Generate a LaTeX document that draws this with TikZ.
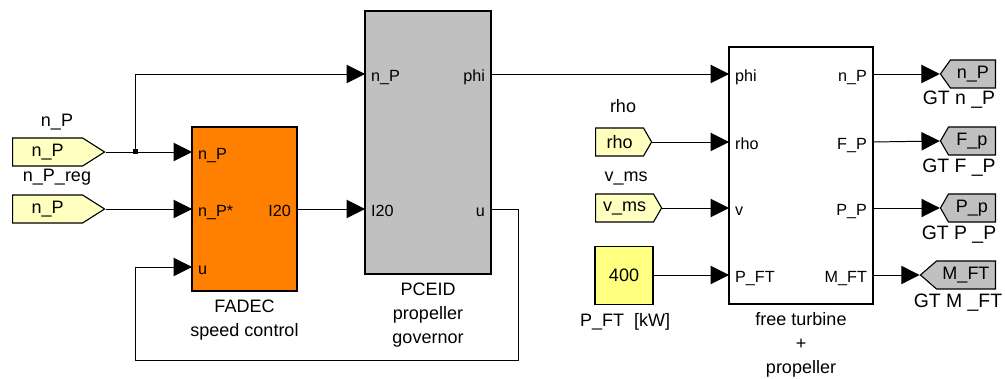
\documentclass[tikz,border=0pt]{standalone}
\usepackage{fontspec}
\setmainfont{Liberation Sans}
\usetikzlibrary{arrows.meta,shapes.symbols,positioning}

\definecolor{fadecorange}{HTML}{FF8000}
\definecolor{blockgray}{HTML}{C0C0C0}
\definecolor{tagyellow}{HTML}{FFFFC0}
\definecolor{constyellow}{HTML}{FFFF80}
\newcommand\lblfont{\fontsize{12.8}{17}\selectfont}
\newcommand\portfont{\fontsize{11.5}{13}\selectfont}

\begin{document}
\begin{tikzpicture}[x=0.025cm,y=-0.025cm,line width=0.7pt,
  >={Triangle[length=13pt,width=13pt]},
  sig/.style={->},
  block/.style={draw,line width=0.8pt,inner sep=0pt},
  portl/.style={font=\portfont,inner sep=0pt,anchor=base west,xshift=4pt,yshift=-5.5pt},
  portr/.style={font=\portfont,inner sep=0pt,anchor=base east,xshift=-4pt,yshift=-5.5pt},
  lbl/.style={font=\lblfont,inner sep=0pt,anchor=base},
  caption/.style={font=\lblfont,align=center,inner sep=0pt},
  fromtag/.style={signal,signal to=east,draw,line width=0.8pt,fill=tagyellow,
    minimum height=0.7cm,inner sep=0pt,font=\lblfont,anchor=west},
  gototag/.style={signal,signal to=west,draw,line width=0.8pt,fill=blockgray,
    minimum height=0.7cm,inner sep=0pt,font=\lblfont,anchor=east},
  gotolbl/.style={lbl,font=\fontsize{13.8}{16}\selectfont}]
  \useasboundingbox (0,0) rectangle (1005,379);

  % blocks
  \node[block,fill=fadecorange,minimum width=2.625cm,minimum height=4.1cm] (fadec) at (244.5,209) {};
  \node[block,fill=blockgray,minimum width=3.15cm,minimum height=6.575cm] (pceid) at (428,142.5) {};
  \node[block,fill=white,minimum width=3.6cm,minimum height=6.425cm] (turb) at (801,175.5) {};
  \node[block,fill=constyellow,minimum width=1.45cm,minimum height=1.45cm,font=\lblfont] (const) at (624,275.5) {400};

  % captions
  \node[caption,below=5.5pt of fadec] (fadeccap) {FADEC\\speed control};
  \node[caption,below=5.5pt of pceid] (pceidcap) {PCEID\\propeller\\governor};
  \node[caption,below=5.5pt of turb] (turbcap) {free turbine\\+\\propeller};
  \node[lbl] (constcap) at (625,327) {P\_FT\ \ [kW]};

  % FADEC ports
  \coordinate (fadec-np) at (192,152);
  \coordinate (fadec-nps) at (192,209);
  \coordinate (fadec-u) at (192,267);
  \coordinate (fadec-i20) at (297,209);
  \node[portl] (fadec-l1) at (fadec-np) {n\_P};
  \node[portl] (fadec-l2) at (fadec-nps) {n\_P*};
  \node[portl] (fadec-l3) at (fadec-u) {u};
  \node[portr] (fadec-l4) at (fadec-i20) {I20};

  % PCEID ports
  \coordinate (pceid-np) at (365,74);
  \coordinate (pceid-i20) at (365,209);
  \coordinate (pceid-phi) at (491,74);
  \coordinate (pceid-u) at (491,209);
  \node[portl] (pceid-l1) at (pceid-np) {n\_P};
  \node[portl] (pceid-l2) at (pceid-i20) {I20};
  \node[portr] (pceid-l3) at (pceid-phi) {phi};
  \node[portr] (pceid-l4) at (pceid-u) {u};

  % free turbine ports
  \foreach \y/\i/\o [count=\k] in {74/phi/n\_P,142/rho/F\_P,208/v/P\_P,275/P\_FT/M\_FT}{
    \coordinate (turb-in\k) at (729,\y);
    \coordinate (turb-out\k) at (873,\y);
    \node[portl] (turb-il\k) at (turb-in\k) {\i};
    \node[portr] (turb-ol\k) at (turb-out\k) {\o};
  }

  % from tags
  \node[fromtag,minimum width=2.3cm,signal pointer angle=65] (from-np) at (12,152) {n\_P};
  \node[fromtag,minimum width=2.3cm,signal pointer angle=65] (from-npreg) at (12,209) {n\_P};
  \node[fromtag,minimum width=1.4cm,signal pointer angle=120] (from-rho) at (595,142) {rho};
  \node[fromtag,minimum width=1.65cm,signal pointer angle=120] (from-vms) at (595,208) {v\_ms};
  \node[lbl] (from-npl) at (57,127) {n\_P};
  \node[lbl] (from-npregl) at (57,182) {n\_P\_reg};
  \node[lbl] (from-rhol) at (623,113) {rho};
  \node[lbl] (from-vmsl) at (626,182) {v\_ms};

  % goto tags
  \node[gototag,minimum width=1.375cm,signal pointer angle=109] (goto-np) at (996,74) {n\_P};
  \node[gototag,minimum width=1.375cm,signal pointer angle=120] (goto-fp) at (996,141) {F\_p};
  \node[gototag,minimum width=1.375cm,signal pointer angle=120] (goto-pp) at (996,208) {P\_p};
  \node[gototag,minimum width=1.875cm,signal pointer angle=82] (goto-mft) at (996,275) {M\_FT};
  \node[gotolbl] (goto-npl) at (959,105) {GT n \_P};
  \node[gotolbl] (goto-fpl) at (959,173) {GT F \_P};
  \node[gotolbl] (goto-ppl) at (959,240) {GT P \_P};
  \node[gotolbl] (goto-mftl) at (958,308) {GT M \_FT};

  % connectors
  \coordinate (branch) at (135,152);
  \coordinate (fbr) at (518,360);
  \coordinate (fbl) at (135,360);
  \draw[sig] (from-np.east) -- (fadec-np);
  \draw[sig] (branch) |- (pceid-np);
  \fill (branch) +(-2.5,-2.5) rectangle +(2.5,2.5);
  \draw[sig] (from-npreg.east) -- (fadec-nps);
  \draw[sig] (fadec-i20) -- (pceid-i20);
  \draw[sig] (pceid-u) -| (fbr) -- (fbl) |- (fadec-u);
  \draw[sig] (pceid-phi) -- (turb-in1);
  \draw[sig] (from-rho.east) -- (turb-in2);
  \draw[sig] (from-vms.east) -- (turb-in3);
  \draw[sig] (const.east |- turb-in4) -- (turb-in4);
  \draw[sig] (turb-out1) -- (goto-np.west);
  \draw[sig] (turb-out2) -- (goto-fp.west);
  \draw[sig] (turb-out3) -- (goto-pp.west);
  \draw[sig] (turb-out4) -- (goto-mft.west);
\end{tikzpicture}
\end{document}
